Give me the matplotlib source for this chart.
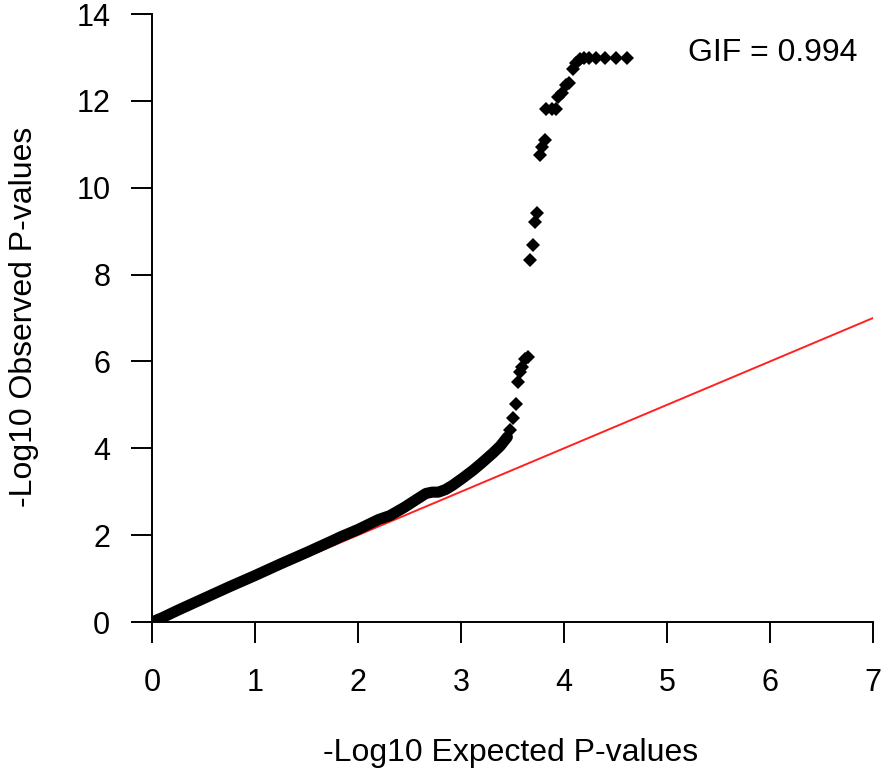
import matplotlib
matplotlib.use("Agg")
import matplotlib.pyplot as plt

plt.rcParams['font.family'] = ['Liberation Sans', 'DejaVu Sans']

# Dense part of the QQ band (expected, observed)
band_exp = [0.0, 0.1, 0.25, 0.5, 0.75, 1.0, 1.25, 1.5, 1.75, 1.83, 2.0, 2.2, 2.31, 2.45,
            2.58, 2.66, 2.72, 2.78, 2.85, 2.92, 3.02, 3.12, 3.2, 3.31, 3.38, 3.45]
band_obs = [0.0, 0.1, 0.27, 0.54, 0.81, 1.07, 1.34, 1.6, 1.87, 1.96, 2.13, 2.36, 2.45, 2.64,
            2.84, 2.96, 2.99, 2.99, 3.05, 3.15, 3.32, 3.5, 3.66, 3.89, 4.05, 4.26]

# Sparse top-tail points
tail_exp = [3.48, 3.50, 3.53, 3.55, 3.57, 3.59, 3.62, 3.65, 3.67, 3.70, 3.72, 3.74,
            3.77, 3.79, 3.82, 3.83, 3.88, 3.92, 3.94, 3.98, 4.02, 4.05, 4.09, 4.12,
            4.16, 4.19, 4.24, 4.31, 4.40, 4.50, 4.61]
tail_obs = [4.42, 4.70, 5.02, 5.53, 5.76, 5.87, 6.05, 6.10, 8.33, 8.68, 9.20, 9.42,
            10.75, 10.94, 11.10, 11.81, 11.81, 11.81, 12.09, 12.18, 12.36, 12.41, 12.73, 12.87,
            12.96, 12.98, 12.98, 12.98, 12.98, 12.98, 12.98]

gif_text = "GIF = 0.994"
x_ticks = [0, 1, 2, 3, 4, 5, 6, 7]
y_ticks = [0, 2, 4, 6, 8, 10, 12, 14]

fig = plt.figure(figsize=(8.81, 7.76), dpi=100)
ax = fig.add_axes([152/881, 1-622/776, 721/881, 608/776])

ax.plot([0, 7], [0, 7], color='#ff2020', lw=1.4, zorder=1)
ax.plot(band_exp, band_obs, color='black', lw=8, solid_capstyle='round',
        solid_joinstyle='round', zorder=2)
ax.plot(tail_exp, tail_obs, 'D', color='black', ms=7, mew=0, zorder=3)

ax.set_xlim(0, 7)
ax.set_ylim(0, 14)
ax.set_xticks(x_ticks)
ax.set_yticks(y_ticks)
for s in ['top', 'right']:
    ax.spines[s].set_visible(False)
for s in ['left', 'bottom']:
    ax.spines[s].set_linewidth(1.4)
ax.tick_params(axis='both', direction='out', length=15, width=1.4, labelsize=22)
ax.tick_params(axis='x', pad=18)
ax.tick_params(axis='y', pad=15)

ax.set_xlabel("-Log10 Expected P-values", fontsize=23, va='center')
ax.set_ylabel("-Log10 Observed P-values", fontsize=23, va='center')
ax.xaxis.set_label_coords((511 - 152) / 721, (622 - 753) / 608)
ax.yaxis.set_label_coords((24 - 152) / 721, (622 - 317) / 608)

ax.text(857/881, 1-53/776, gif_text, transform=fig.transFigure, ha='right', va='center', fontsize=23)

fig.savefig("out.png", dpi=100)
